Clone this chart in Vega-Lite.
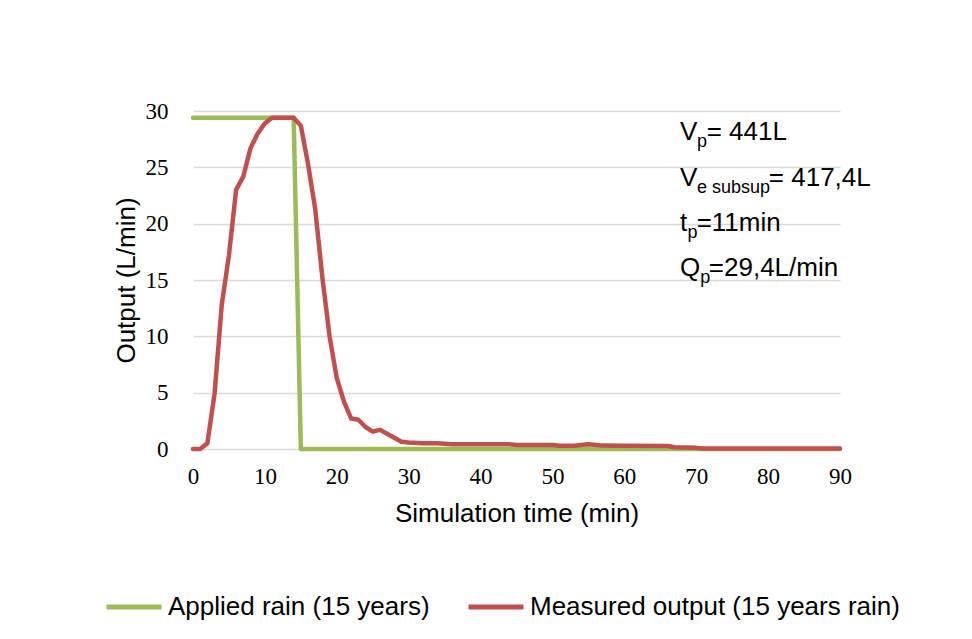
{
  "$schema": "https://vega.github.io/schema/vega-lite/v6.json",
  "autosize": {"type": "none"},
  "width": 647,
  "height": 338,
  "padding": {"left": 193, "top": 111, "right": 132, "bottom": 190},
  "background": "white",
  "config": {"view": {"stroke": null}},
  "datasets": {
    "series": [
      {"t": 0, "v": 29.4, "s": "Applied rain (15 years)"},
      {"t": 14, "v": 29.4, "s": "Applied rain (15 years)"},
      {"t": 15, "v": 0, "s": "Applied rain (15 years)"},
      {"t": 90, "v": 0, "s": "Applied rain (15 years)"},
      {"t": 0, "v": 0, "s": "Measured output (15 years rain)"},
      {"t": 1, "v": 0, "s": "Measured output (15 years rain)"},
      {"t": 2, "v": 0.5, "s": "Measured output (15 years rain)"},
      {"t": 3, "v": 4.9, "s": "Measured output (15 years rain)"},
      {"t": 4, "v": 12.8, "s": "Measured output (15 years rain)"},
      {"t": 5, "v": 17.2, "s": "Measured output (15 years rain)"},
      {"t": 6, "v": 23.0, "s": "Measured output (15 years rain)"},
      {"t": 7, "v": 24.2, "s": "Measured output (15 years rain)"},
      {"t": 8, "v": 26.7, "s": "Measured output (15 years rain)"},
      {"t": 9, "v": 28.0, "s": "Measured output (15 years rain)"},
      {"t": 10, "v": 28.9, "s": "Measured output (15 years rain)"},
      {"t": 11, "v": 29.4, "s": "Measured output (15 years rain)"},
      {"t": 12, "v": 29.4, "s": "Measured output (15 years rain)"},
      {"t": 13, "v": 29.4, "s": "Measured output (15 years rain)"},
      {"t": 14, "v": 29.4, "s": "Measured output (15 years rain)"},
      {"t": 15, "v": 28.7, "s": "Measured output (15 years rain)"},
      {"t": 16, "v": 25.3, "s": "Measured output (15 years rain)"},
      {"t": 17, "v": 21.3, "s": "Measured output (15 years rain)"},
      {"t": 18, "v": 15.2, "s": "Measured output (15 years rain)"},
      {"t": 19, "v": 10.0, "s": "Measured output (15 years rain)"},
      {"t": 20, "v": 6.3, "s": "Measured output (15 years rain)"},
      {"t": 21, "v": 4.2, "s": "Measured output (15 years rain)"},
      {"t": 22, "v": 2.7, "s": "Measured output (15 years rain)"},
      {"t": 23, "v": 2.6, "s": "Measured output (15 years rain)"},
      {"t": 24, "v": 1.95, "s": "Measured output (15 years rain)"},
      {"t": 25, "v": 1.55, "s": "Measured output (15 years rain)"},
      {"t": 26, "v": 1.7, "s": "Measured output (15 years rain)"},
      {"t": 27, "v": 1.35, "s": "Measured output (15 years rain)"},
      {"t": 28, "v": 1.0, "s": "Measured output (15 years rain)"},
      {"t": 29, "v": 0.65, "s": "Measured output (15 years rain)"},
      {"t": 30, "v": 0.58, "s": "Measured output (15 years rain)"},
      {"t": 32, "v": 0.52, "s": "Measured output (15 years rain)"},
      {"t": 34, "v": 0.5, "s": "Measured output (15 years rain)"},
      {"t": 36, "v": 0.43, "s": "Measured output (15 years rain)"},
      {"t": 40, "v": 0.42, "s": "Measured output (15 years rain)"},
      {"t": 44, "v": 0.42, "s": "Measured output (15 years rain)"},
      {"t": 45, "v": 0.36, "s": "Measured output (15 years rain)"},
      {"t": 50, "v": 0.35, "s": "Measured output (15 years rain)"},
      {"t": 51, "v": 0.28, "s": "Measured output (15 years rain)"},
      {"t": 53, "v": 0.28, "s": "Measured output (15 years rain)"},
      {"t": 55, "v": 0.42, "s": "Measured output (15 years rain)"},
      {"t": 57, "v": 0.3, "s": "Measured output (15 years rain)"},
      {"t": 60, "v": 0.28, "s": "Measured output (15 years rain)"},
      {"t": 66, "v": 0.27, "s": "Measured output (15 years rain)"},
      {"t": 67, "v": 0.15, "s": "Measured output (15 years rain)"},
      {"t": 70, "v": 0.1, "s": "Measured output (15 years rain)"},
      {"t": 71, "v": 0.05, "s": "Measured output (15 years rain)"},
      {"t": 90, "v": 0.05, "s": "Measured output (15 years rain)"}
    ],
    "notes": [
      {"x": 67.74, "y": 27.43, "text": "V", "part": "main"},
      {"x": 70.1, "y": 27.43, "text": "p", "part": "sub"},
      {"x": 71.45, "y": 27.43, "text": "= 441L", "part": "main"},
      {"x": 67.74, "y": 23.34, "text": "V", "part": "main"},
      {"x": 70.1, "y": 23.34, "text": "e subsup", "part": "sub"},
      {"x": 80.1, "y": 23.34, "text": "= 417,4L", "part": "main"},
      {"x": 67.74, "y": 19.35, "text": "t", "part": "main"},
      {"x": 68.8, "y": 19.35, "text": "p", "part": "sub"},
      {"x": 70.06, "y": 19.35, "text": "=11min", "part": "main"},
      {"x": 67.74, "y": 15.36, "text": "Q", "part": "main"},
      {"x": 70.55, "y": 15.36, "text": "p", "part": "sub"},
      {"x": 71.75, "y": 15.36, "text": "=29,4L/min", "part": "main"}
    ]
  },
  "layer": [
    {
      "data": {"name": "series"},
      "mark": {"type": "line", "strokeWidth": 4.5, "strokeCap": "round", "strokeJoin": "round"},
      "encoding": {
        "x": {
          "field": "t", "type": "quantitative",
          "scale": {"domain": [0, 90], "nice": false},
          "axis": {
            "values": [0, 10, 20, 30, 40, 50, 60, 70, 80, 90],
            "title": "Simulation time (min)",
            "grid": false, "ticks": false, "domain": false,
            "labelFlush": false, "labelBound": false,
            "labelFont": "Liberation Serif", "labelFontSize": 23, "labelColor": "#000000",
            "labelPadding": 16,
            "titleFont": "Liberation Sans", "titleFontSize": 26, "titleFontWeight": "normal", "titleColor": "#000000",
            "titlePadding": 12
          }
        },
        "y": {
          "field": "v", "type": "quantitative",
          "scale": {"domain": [0, 30], "nice": false},
          "axis": {
            "values": [0, 5, 10, 15, 20, 25, 30],
            "title": "Output (L/min)",
            "grid": true, "gridColor": "#d9d9d9", "gridWidth": 1.5,
            "ticks": false, "domain": false,
            "labelFlush": false,
            "labelFont": "Liberation Serif", "labelFontSize": 23, "labelColor": "#000000",
            "labelPadding": 25,
            "titleFont": "Liberation Sans", "titleFontSize": 26, "titleFontWeight": "normal", "titleColor": "#000000",
            "titlePadding": 6
          }
        },
        "color": {
          "field": "s", "type": "nominal",
          "scale": {"domain": ["Applied rain (15 years)", "Measured output (15 years rain)"], "range": ["#9BBB59", "#C0504D"]},
          "legend": {
            "title": null, "orient": "none", "legendX": -89, "legendY": 466,
            "direction": "horizontal", "symbolType": "stroke", "symbolSize": 3025,
            "symbolStrokeWidth": 5, "labelFont": "Liberation Sans", "labelFontSize": 26,
            "labelColor": "#000000", "labelOffset": 4, "columnPadding": 28, "labelLimit": 500
          }
        }
      }
    },
    {
      "data": {"name": "notes"},
      "transform": [{"filter": "datum.part === 'main'"}],
      "mark": {"type": "text", "align": "left", "baseline": "alphabetic", "font": "Liberation Sans", "fontSize": 26, "color": "#000000"},
      "encoding": {
        "x": {"field": "x", "type": "quantitative"},
        "y": {"field": "y", "type": "quantitative"},
        "text": {"field": "text"}
      }
    },
    {
      "data": {"name": "notes"},
      "transform": [{"filter": "datum.part === 'sub'"}],
      "mark": {"type": "text", "align": "left", "baseline": "alphabetic", "font": "Liberation Sans", "fontSize": 18, "color": "#000000", "dy": 7},
      "encoding": {
        "x": {"field": "x", "type": "quantitative"},
        "y": {"field": "y", "type": "quantitative"},
        "text": {"field": "text"}
      }
    }
  ]
}
